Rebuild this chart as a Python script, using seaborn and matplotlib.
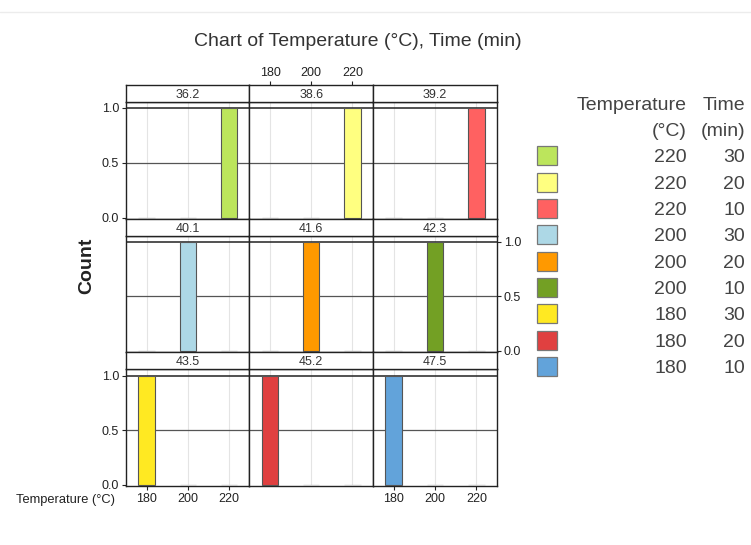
import matplotlib
matplotlib.use("Agg")
import matplotlib.pyplot as plt
import seaborn as sns
import pandas as pd
from matplotlib.lines import Line2D
from matplotlib.patches import Rectangle

sns.set_theme(style="white")
plt.rcParams['font.family'] = ['Liberation Sans', 'DejaVu Sans']

# ---- data ----
panel_labels = ["36.2", "38.6", "39.2", "40.1", "41.6", "42.3", "43.5", "45.2", "47.5"]
temp_levels = ["180", "200", "220"]
counts = [
    [0, 0, 1],
    [0, 0, 1],
    [0, 0, 1],
    [0, 1, 0],
    [0, 1, 0],
    [0, 1, 0],
    [1, 0, 0],
    [1, 0, 0],
    [1, 0, 0],
]
legend_temp = ["220", "220", "220", "200", "200", "200", "180", "180", "180"]
legend_time = ["30", "20", "10", "30", "20", "10", "30", "20", "10"]
colors = ["#BCE55C", "#FFFF80", "#FF6161", "#ADD8E6", "#FF9900",
          "#73A024", "#FFE922", "#E04040", "#62A3DA"]

W, H = 751, 545
fig = plt.figure(figsize=(W / 100, H / 100), dpi=100)

def fx(px):
    return px / W

def fy(px):
    return 1 - px / H

fig.add_artist(Line2D([0, 1], [fy(12), fy(12)], color="#ececec", lw=1, transform=fig.transFigure))

col_edges = [126, 249.5, 373, 497]
strip_top = [85, 219, 352]
strip_bot = [102, 236, 369]
one_y = [108, 242, 376]
zero_y = [219, 352, 486]

tick_col = "#222222"
tick_fs = 9
for i, lab in enumerate(panel_labels):
    r, c = divmod(i, 3)
    left = fx(col_edges[c])
    width = fx(col_edges[c + 1]) - left
    ax = fig.add_axes([left, fy(zero_y[r]), width, fy(strip_bot[r]) - fy(zero_y[r])])
    df = pd.DataFrame({"Temperature": temp_levels, "Count": counts[i]})
    pal = {t: (colors[i] if n > 0 else "white") for t, n in zip(temp_levels, counts[i])}
    sns.barplot(data=df, x="Temperature", y="Count", hue="Temperature", order=temp_levels,
                hue_order=temp_levels, palette=pal, dodge=False, legend=False,
                width=0.4, saturation=1, ax=ax, zorder=3)
    for p, n in zip(ax.patches, counts[i]):
        if n > 0:
            p.set_edgecolor("#555555")
            p.set_linewidth(0.8)
        else:
            p.set_edgecolor("#c4c4c4")
            p.set_linewidth(1.0)
    ytop = (zero_y[r] - strip_bot[r]) / (zero_y[r] - one_y[r])
    ax.set_ylim(-0.012, ytop)
    ax.set_xlim(-0.5, 2.5)
    for xv in range(3):
        ax.axvline(xv, color="#e4e4e4", lw=0.8, zorder=0)
    ax.axhline(0.5, color="#555555", lw=0.9, zorder=1)
    ax.axhline(1.0, color="#222222", lw=1.1, zorder=1)
    ax.set_xlabel("")
    ax.set_ylabel("")
    for s in ax.spines.values():
        s.set_color("#222222")
        s.set_linewidth(1.0)
    ax.set_yticks([0, 0.5, 1.0])
    ax.set_yticklabels(["0.0", "0.5", "1.0"])
    ax.tick_params(axis="both", labelsize=tick_fs, colors=tick_col, length=3, width=0.8, pad=2,
                   direction="out")
    ax.tick_params(left=False, right=False, bottom=False, top=False,
                   labelleft=False, labelright=False, labelbottom=False, labeltop=False)
    if (r == 0 or r == 2) and c == 0:
        ax.tick_params(left=True, labelleft=True)
    if r == 1 and c == 2:
        ax.tick_params(right=True, labelright=True)
    if r == 2 and c in (0, 2):
        ax.tick_params(bottom=True, labelbottom=True)
    ax.set_facecolor("white")

    sax = fig.add_axes([left, fy(strip_bot[r]), width, fy(strip_top[r]) - fy(strip_bot[r])])
    sax.set_xlim(-0.5, 2.5)
    sax.set_ylim(0, 1)
    sax.set_facecolor("white")
    sax.text(1, 0.42, lab, ha="center", va="center", fontsize=9, color="#333333")
    for s in sax.spines.values():
        s.set_color("#222222")
        s.set_linewidth(1.0)
    sax.set_yticks([])
    sax.set_xticks([0, 1, 2])
    sax.set_xticklabels(temp_levels)
    sax.tick_params(axis="x", labelsize=tick_fs, colors=tick_col, length=3, width=0.8, pad=1,
                    bottom=False, labelbottom=False, top=False, labeltop=False)
    if r == 0 and c == 1:
        sax.tick_params(axis="x", top=True, labeltop=True)

fig.text(fx(358), fy(41), "Chart of Temperature (°C), Time (min)", ha="center", va="center",
         fontsize=14, color="#333333")
fig.text(fx(87), fy(266), "Count", rotation=90, ha="center", va="center",
         fontsize=14, fontweight="bold", color="#222222")
fig.text(fx(115), fy(500), "Temperature (°C)", ha="right", va="center",
         fontsize=9.3, color="#222222")

leg_fs = 14
fig.text(fx(687), fy(106), "Temperature", ha="right", va="center", fontsize=leg_fs, color="#444444")
fig.text(fx(687), fy(131), "(°C)", ha="right", va="center", fontsize=leg_fs, color="#444444")
fig.text(fx(745), fy(106), "Time", ha="right", va="center", fontsize=leg_fs, color="#444444")
fig.text(fx(745), fy(131), "(min)", ha="right", va="center", fontsize=leg_fs, color="#444444")
for k in range(len(colors)):
    cy = 156 + 26.3 * k
    fig.add_artist(Rectangle((fx(537), fy(cy + 9.5)), fx(20), fy(cy - 9.5) - fy(cy + 9.5),
                             facecolor=colors[k], edgecolor="#777777", lw=0.9,
                             transform=fig.transFigure))
    fig.text(fx(687), fy(cy + 2), legend_temp[k], ha="right", va="center",
             fontsize=leg_fs, color="#444444")
    fig.text(fx(745), fy(cy + 2), legend_time[k], ha="right", va="center",
             fontsize=leg_fs, color="#444444")

fig.savefig("out.png", dpi=100, facecolor="white")
